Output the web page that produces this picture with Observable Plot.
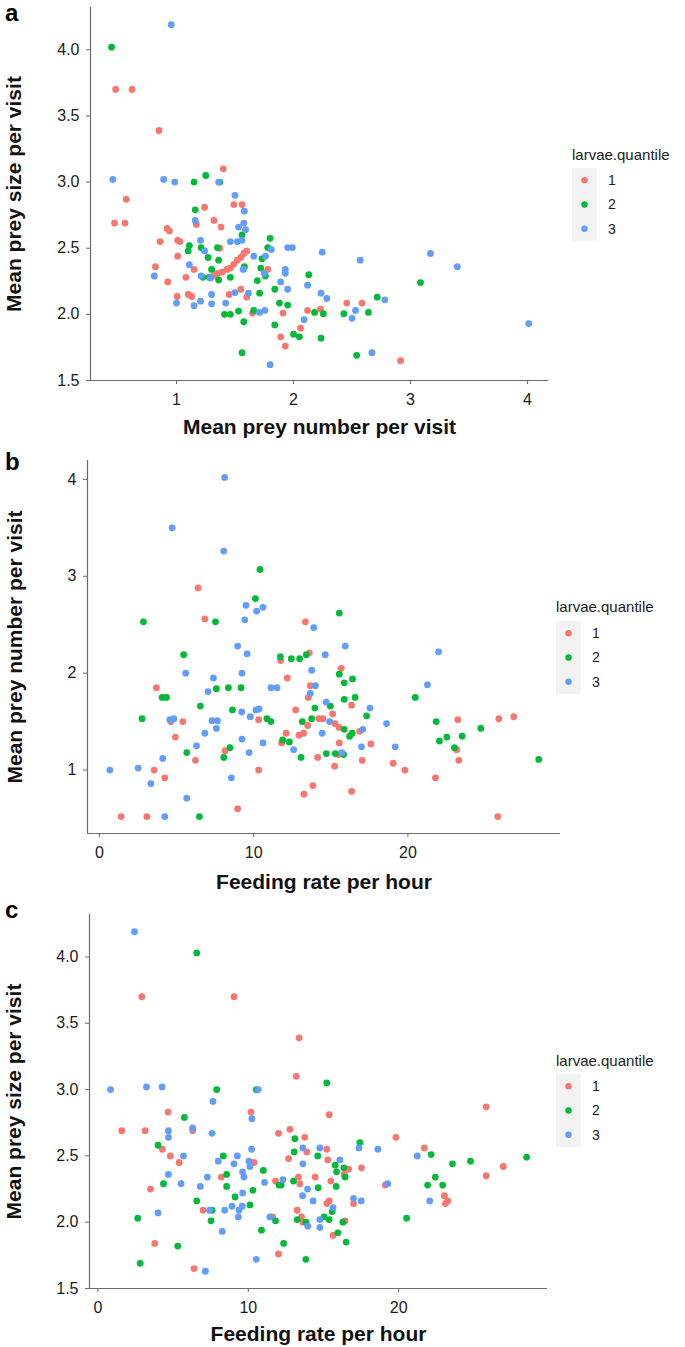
<!DOCTYPE html>
<html>
<head>
<meta charset="utf-8">
<script src="https://cdn.jsdelivr.net/npm/d3@7"></script>
<script src="https://cdn.jsdelivr.net/npm/@observablehq/plot@0.6"></script>
<style>
  html, body { margin: 0; padding: 0; background: #fff; }
  #root { position: relative; width: 685px; height: 1347px; overflow: hidden; font-family: "Liberation Sans", Arial, sans-serif; }
  .panel { position: absolute; left: 0; }
  #overlay { position: absolute; left: 0; top: 0; pointer-events: none; }
</style>
</head>
<body>
<div id="root">
  <div class="panel" id="pa" style="top:0px"></div>
  <div class="panel" id="pb" style="top:440px"></div>
  <div class="panel" id="pc" style="top:890px"></div>
</div>
<script>
// ---------- DATA ----------
const groups = ["1", "2", "3"];
const groupColors = ["#F8766D", "#00BA38", "#619CFF"];
const legendTitle = "larvae.quantile";

const labelNumber = "Mean prey number per visit";
const labelSize = "Mean prey size per visit";
const labelRate = "Feeding rate per hour";

const ticksNumberA = [1, 2, 3, 4];
const ticksSize = [1.5, 2.0, 2.5, 3.0, 3.5, 4.0];
const ticksRate = [0, 10, 20];
const ticksNumberB = [1, 2, 3, 4];

// Panel a: [mean prey number, mean prey size]
const a_q1 = [[0.48,3.70],[0.62,3.70],[0.85,3.39],[1.40,3.10],[1.49,2.83],[1.56,2.83],[0.57,2.87],[1.24,2.81],[0.47,2.69],[0.56,2.69],[1.17,2.68],[1.32,2.71],[1.38,2.66],[0.92,2.65],[0.94,2.63],[0.86,2.55],[1.01,2.56],[1.03,2.55],[1.37,2.50],[1.60,2.48],[1.575,2.46],[1.55,2.43],[1.52,2.41],[1.49,2.38],[1.01,2.44],[0.82,2.36],[0.925,2.245],[1.15,2.34],[1.46,2.35],[1.43,2.34],[1.39,2.32],[1.35,2.31],[1.32,2.29],[1.78,2.34],[1.08,2.28],[1.55,2.19],[1.45,2.15],[1.60,2.13],[1.005,2.135],[1.10,2.15],[1.13,2.135],[1.65,2.01],[1.91,2.01],[2.12,2.03],[2.06,1.895],[1.89,1.83],[1.93,1.76],[2.455,2.085],[2.585,2.085],[2.23,2.04],[2.915,1.65]];
const a_q2 = [[0.445,4.02],[1.15,3.0],[1.25,3.05],[1.37,3.0],[1.16,2.79],[1.56,2.60],[1.11,2.52],[1.10,2.48],[1.21,2.505],[1.35,2.505],[1.80,2.575],[1.78,2.505],[1.27,2.43],[1.36,2.41],[1.73,2.42],[1.30,2.34],[1.58,2.36],[1.72,2.35],[1.76,2.29],[2.13,2.30],[1.225,2.28],[1.28,2.28],[1.36,2.26],[1.46,2.28],[1.69,2.255],[1.84,2.19],[1.71,2.16],[1.88,2.085],[1.95,2.07],[1.41,2.0],[1.46,2.0],[1.53,2.025],[1.575,1.945],[1.66,2.03],[1.84,1.92],[2.0,1.85],[2.05,1.83],[1.56,1.71],[3.085,2.24],[2.715,2.13],[2.18,2.015],[2.255,2.005],[2.43,2.005],[2.64,2.015],[2.235,1.82],[2.54,1.69]];
const a_q3 = [[0.955,4.19],[0.456,3.02],[0.89,3.02],[0.985,3.0],[1.36,3.0],[1.50,2.90],[1.58,2.78],[1.16,2.71],[1.53,2.66],[1.575,2.69],[1.59,2.64],[1.205,2.56],[1.24,2.48],[1.46,2.55],[1.52,2.55],[1.56,2.56],[1.81,2.49],[1.95,2.505],[1.99,2.505],[1.66,2.44],[1.76,2.44],[0.81,2.29],[1.11,2.375],[1.57,2.34],[1.75,2.31],[1.93,2.34],[1.93,2.31],[1.89,2.245],[2.12,2.22],[1.21,2.29],[1.29,2.275],[1.95,2.19],[1.50,2.165],[1.615,2.16],[1.30,2.15],[1.0,2.085],[1.15,2.065],[1.205,2.10],[1.30,2.08],[1.42,2.085],[1.71,2.015],[1.755,2.03],[2.09,1.96],[1.80,1.62],[2.245,2.47],[2.57,2.41],[3.17,2.46],[3.40,2.36],[2.235,2.16],[2.285,2.12],[2.78,2.11],[2.53,2.03],[2.50,1.97],[2.67,1.71],[4.01,1.93]];

// Panel b: [feeding rate, mean prey number]
const b_q1 = [[6.39,2.88],[6.83,2.56],[13.35,2.53],[11.75,2.13],[13.61,2.21],[12.18,1.95],[3.69,1.85],[13.67,1.87],[13.54,1.75],[12.72,1.62],[4.62,1.50],[5.40,1.50],[10.32,1.52],[13.50,1.46],[14.23,1.53],[4.92,1.34],[12.10,1.38],[12.94,1.36],[13.24,1.38],[11.81,1.28],[8.14,1.20],[14.15,1.13],[6.22,1.10],[3.54,1.0],[10.32,1.0],[4.23,0.92],[13.84,0.84],[13.26,0.75],[8.96,0.60],[1.40,0.52],[3.07,0.52],[15.68,2.05],[14.49,1.53],[16.35,1.67],[15.12,1.58],[15.27,1.48],[15.53,1.44],[23.24,1.52],[25.90,1.53],[26.87,1.55],[16.87,1.40],[15.55,1.28],[17.60,1.27],[23.17,1.21],[15.49,1.16],[15.25,1.04],[17.04,1.10],[19.05,1.07],[19.81,1.00],[23.30,1.10],[21.79,0.92],[16.35,0.78],[25.83,0.52]];
const b_q2 = [[10.41,3.07],[10.11,2.77],[2.85,2.53],[7.52,2.53],[5.46,2.19],[11.73,2.17],[12.44,2.15],[12.98,2.15],[13.41,2.19],[7.58,1.84],[8.36,1.85],[9.18,1.85],[4.06,1.75],[4.34,1.75],[6.54,1.66],[8.62,1.62],[13.97,1.64],[2.76,1.53],[10.86,1.53],[11.12,1.50],[13.15,1.50],[13.76,1.53],[11.88,1.31],[12.31,1.29],[8.46,1.23],[8.06,1.13],[5.66,1.18],[13.07,1.13],[6.48,0.52],[15.55,2.62],[15.55,1.99],[15.87,1.90],[16.41,1.94],[15.87,1.73],[16.58,1.75],[20.48,1.75],[14.97,1.66],[17.32,1.56],[21.84,1.50],[24.73,1.43],[15.87,1.42],[16.22,1.35],[16.39,1.38],[22.53,1.34],[23.52,1.35],[22.05,1.30],[23.02,1.23],[14.71,1.17],[15.29,1.17],[15.83,1.16],[28.49,1.11]];
const b_q3 = [[8.12,4.02],[4.71,3.50],[8.06,3.26],[9.50,2.70],[10.19,2.64],[10.60,2.68],[9.42,2.55],[13.89,2.47],[8.96,2.28],[9.57,2.20],[5.59,2.0],[9.24,2.0],[13.76,2.03],[7.39,1.95],[7.04,1.81],[11.12,1.85],[11.51,1.85],[14.0,1.87],[13.67,1.79],[9.22,1.60],[10.15,1.62],[10.35,1.63],[4.56,1.52],[4.82,1.53],[7.30,1.51],[7.65,1.51],[7.58,1.43],[9.78,1.55],[6.83,1.38],[9.24,1.32],[10.60,1.28],[6.29,1.25],[12.59,1.21],[9.70,1.18],[4.10,1.12],[0.67,1.0],[2.51,1.02],[3.33,0.86],[8.55,0.92],[5.66,0.71],[4.23,0.52],[15.94,2.28],[14.64,2.19],[21.99,2.22],[21.27,1.88],[14.71,1.70],[17.54,1.64],[14.92,1.50],[18.62,1.48],[17.08,1.42],[14.44,1.38],[16.99,1.24],[19.18,1.24],[15.72,1.18]];

// Panel c: [feeding rate, mean prey size]
const c_q1 = [[2.92,3.70],[9.05,3.70],[13.38,3.39],[13.19,3.10],[4.67,2.83],[10.18,2.83],[1.59,2.69],[3.14,2.69],[6.30,2.69],[12.01,2.67],[12.77,2.70],[13.76,2.64],[4.29,2.55],[4.82,2.50],[5.40,2.45],[13.89,2.53],[10.38,2.45],[12.68,2.48],[3.50,2.25],[8.21,2.34],[11.81,2.31],[13.34,2.34],[13.43,2.29],[14.45,2.34],[6.99,2.09],[11.62,2.04],[13.25,2.09],[13.54,2.04],[13.63,2.00],[3.78,1.84],[12.01,1.76],[6.39,1.65],[15.38,2.81],[19.82,2.64],[25.82,2.87],[21.71,2.56],[15.22,2.55],[15.29,2.47],[16.67,2.40],[16.38,2.36],[17.53,2.41],[26.96,2.42],[25.82,2.35],[15.49,2.31],[19.11,2.28],[15.22,2.14],[15.38,2.16],[17.0,2.14],[23.04,2.20],[23.11,2.14],[23.27,2.16],[16.44,2.01],[15.64,1.90]];
const c_q2 = [[6.57,4.03],[7.90,3.0],[10.53,3.0],[5.75,2.79],[13.10,2.63],[4.0,2.58],[13.05,2.53],[14.62,2.50],[8.34,2.50],[4.36,2.29],[8.56,2.36],[8.56,2.27],[11.0,2.39],[12.04,2.28],[12.19,2.28],[13.01,2.31],[14.65,2.26],[10.31,2.24],[9.12,2.19],[6.57,2.16],[10.11,2.13],[7.59,2.09],[7.52,2.01],[2.65,2.03],[10.88,1.94],[11.81,2.01],[13.25,2.02],[13.83,2.0],[5.31,1.82],[12.35,1.84],[2.81,1.69],[13.83,1.72],[15.22,3.05],[17.42,2.60],[22.16,2.51],[15.78,2.43],[16.36,2.41],[15.87,2.38],[16.44,2.34],[23.58,2.44],[24.78,2.46],[28.51,2.49],[15.84,2.27],[22.44,2.34],[21.93,2.28],[22.93,2.28],[15.58,2.08],[15.04,2.04],[15.38,2.02],[16.29,2.0],[15.96,1.92],[16.51,1.85],[20.53,2.03]];
const c_q3 = [[2.43,4.19],[0.84,3.0],[3.23,3.02],[4.27,3.02],[10.66,3.0],[7.65,2.91],[10.24,2.78],[4.69,2.69],[4.69,2.64],[6.30,2.71],[7.59,2.67],[5.69,2.50],[10.22,2.55],[13.63,2.56],[14.76,2.56],[9.27,2.50],[8.0,2.46],[9.05,2.44],[10.04,2.46],[10.11,2.42],[13.63,2.44],[4.69,2.36],[5.53,2.29],[6.81,2.27],[7.28,2.34],[9.62,2.38],[9.71,2.34],[11.08,2.30],[12.30,2.32],[13.94,2.25],[13.61,2.20],[14.31,2.16],[9.62,2.22],[8.92,2.12],[9.60,2.12],[9.38,2.09],[9.34,2.04],[7.43,2.09],[8.43,2.09],[8.27,1.93],[4.0,2.07],[11.44,2.04],[13.96,1.97],[14.76,2.02],[14.76,1.96],[7.15,1.63],[10.53,1.72],[17.36,2.56],[18.62,2.55],[21.24,2.50],[16.09,2.47],[19.27,2.29],[15.64,2.11],[17.0,2.18],[17.51,2.16],[22.07,2.16]];

// ---------- BUILD ----------
function tidy(lists) {
  const out = [];
  lists.forEach((list, gi) => list.forEach(([x, y]) => out.push({x, y, g: groups[gi]})));
  return out;
}

const FONT = '"Liberation Sans", Arial, Helvetica, sans-serif';

function panel(cfg) {
  const data = tidy(cfg.series);
  return Plot.plot({
    width: 685,
    height: cfg.height,
    marginTop: cfg.mt,
    marginBottom: cfg.mb,
    marginLeft: cfg.ml,
    marginRight: cfg.mr,
    style: {fontFamily: FONT, fontSize: "16px", background: "transparent", overflow: "visible", color: "#1a1a1a"},
    x: {domain: cfg.xDomain},
    y: {domain: cfg.yDomain},
    color: {domain: groups, range: groupColors},
    marks: [
      Plot.ruleX([cfg.xDomain[0]], {stroke: "#6b6b6b", strokeWidth: 1.2}),
      Plot.ruleY([cfg.yDomain[0]], {stroke: "#6b6b6b", strokeWidth: 1.2}),
      Plot.axisX({ticks: cfg.xTicks, tickFormat: cfg.xFmt, tickSize: 4, tickPadding: 9.5, label: null, stroke: "#6b6b6b", fill: "#1a1a1a", fontSize: 16}),
      Plot.axisY({ticks: cfg.yTicks, tickFormat: cfg.yFmt, tickSize: 4, tickPadding: 7, label: null, stroke: "#6b6b6b", fill: "#1a1a1a", fontSize: 16}),
      Plot.dot(data, {x: "x", y: "y", fill: "g", r: 3.4, stroke: "none"}),
      Plot.text([cfg.xLabel], {text: d => d, frameAnchor: "bottom", textAnchor: "middle", lineAnchor: "bottom", dy: cfg.xLabelDy, fontWeight: "bold", fontSize: 21, fill: "#111"}),
      Plot.text([cfg.yLabel], {text: d => d, frameAnchor: "left", textAnchor: "middle", lineAnchor: "bottom", rotate: -90, dx: cfg.yLabelDx, fontWeight: "bold", fontSize: 21, fill: "#111"})
    ]
  });
}

document.getElementById("pa").appendChild(panel({
  series: [a_q1, a_q2, a_q3],
  height: 440, mt: 7, mb: 60, ml: 90, mr: 685 - 548,
  xDomain: [0.265, 4.179], yDomain: [1.5, 4.32],
  xTicks: ticksNumberA, yTicks: ticksSize, xFmt: d3.format("d"), yFmt: d3.format(".1f"),
  xLabel: labelNumber, yLabel: labelSize, xLabelDy: 53, yLabelDx: -70
}));

document.getElementById("pb").appendChild(panel({
  series: [b_q1, b_q2, b_q3],
  height: 450, mt: 20, mb: 57, ml: 87, mr: 685 - 560,
  xDomain: [-0.78, 29.9], yDomain: [0.345, 4.195],
  xTicks: ticksRate, yTicks: ticksNumberB, xFmt: d3.format("d"), yFmt: d3.format("d"),
  xLabel: labelRate, yLabel: labelNumber, xLabelDy: 55, yLabelDx: -66
}));

document.getElementById("pc").appendChild(panel({
  series: [c_q1, c_q2, c_q3],
  height: 457, mt: 24, mb: 59, ml: 89, mr: 685 - 547,
  xDomain: [-0.56, 29.9], yDomain: [1.5, 4.32],
  xTicks: ticksRate, yTicks: ticksSize, xFmt: d3.format("d"), yFmt: d3.format(".1f"),
  xLabel: labelRate, yLabel: labelSize, xLabelDy: 52, yLabelDx: -69
}));

// ---------- OVERLAY: panel letters and legends ----------
const overlay = d3.select("#root").append("svg")
  .attr("id", "overlay").attr("width", 685).attr("height", 1347)
  .style("font-family", FONT);

const letters = [["a", 5, 21], ["b", 5, 470], ["c", 5, 918]];
overlay.selectAll("text.letter").data(letters).join("text")
  .attr("class", "letter")
  .attr("x", d => d[1]).attr("y", d => d[2])
  .attr("font-size", 24).attr("font-weight", "bold").attr("fill", "#000")
  .text(d => d[0]);

const legends = [
  {x: 572, titleY: 160, keyTop: 168},
  {x: 556, titleY: 612, keyTop: 621},
  {x: 556, titleY: 1066, keyTop: 1074}
];
const keyH = 24.3, keyW = 25;
legends.forEach(L => {
  const g = overlay.append("g");
  g.append("text").attr("x", L.x).attr("y", L.titleY)
    .attr("font-size", 15).attr("fill", "#1a1a1a").text(legendTitle);
  g.append("rect").attr("x", L.x).attr("y", L.keyTop)
    .attr("width", keyW).attr("height", keyH * 3).attr("fill", "#f2f2f2");
  groups.forEach((k, i) => {
    const cy = L.keyTop + keyH * (i + 0.5);
    g.append("circle").attr("cx", L.x + keyW / 2).attr("cy", cy).attr("r", 3.2).attr("fill", groupColors[i]);
    g.append("text").attr("x", L.x + 36).attr("y", cy + 5)
      .attr("font-size", 14).attr("fill", "#1a1a1a").text(k);
  });
});
</script>
</body>
</html>
